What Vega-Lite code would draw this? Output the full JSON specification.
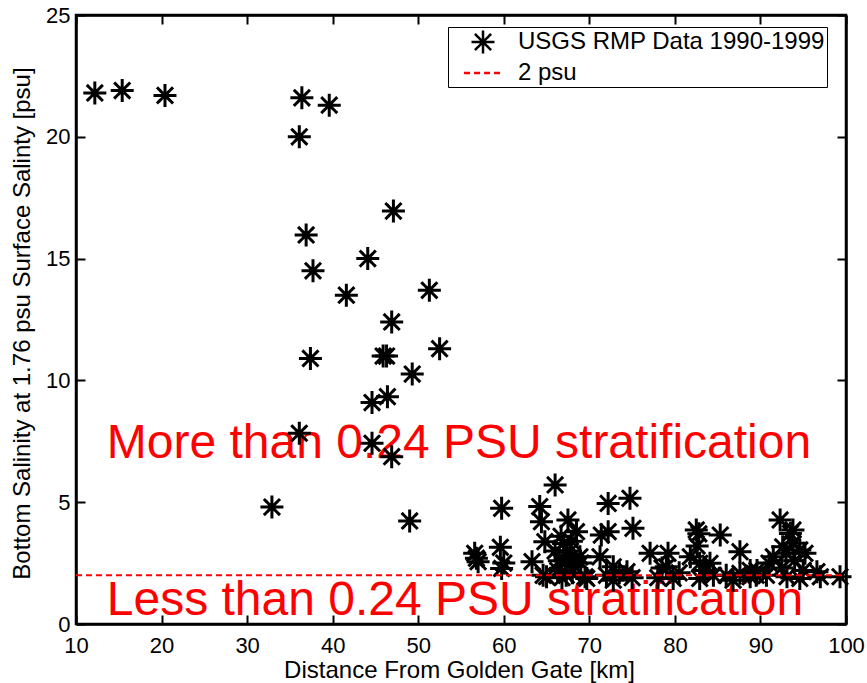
{
  "$schema": "https://vega.github.io/schema/vega-lite/v6.json",
  "width": 770,
  "height": 609,
  "autosize": {"type": "none"},
  "padding": {"left": 76, "top": 15, "right": 21, "bottom": 59},
  "background": "white",
  "config": {"view": {"stroke": "black", "strokeWidth": 2.5}, "font": "Liberation Sans"},
  "datasets": {
    "pts": [
      {"d": 12.2, "s": 21.8}, {"d": 15.4, "s": 21.9}, {"d": 20.4, "s": 21.7},
      {"d": 36.4, "s": 21.6}, {"d": 39.6, "s": 21.3}, {"d": 36.1, "s": 20.0},
      {"d": 47.1, "s": 16.95}, {"d": 36.9, "s": 15.97}, {"d": 44.1, "s": 15.0},
      {"d": 37.7, "s": 14.5}, {"d": 41.6, "s": 13.5}, {"d": 51.3, "s": 13.7},
      {"d": 46.9, "s": 12.4}, {"d": 37.4, "s": 10.9}, {"d": 45.9, "s": 11.0},
      {"d": 46.3, "s": 11.0}, {"d": 52.5, "s": 11.3}, {"d": 49.3, "s": 10.26},
      {"d": 46.4, "s": 9.33}, {"d": 44.6, "s": 9.09}, {"d": 36.1, "s": 7.83},
      {"d": 44.6, "s": 7.42}, {"d": 46.9, "s": 6.87}, {"d": 32.9, "s": 4.8},
      {"d": 49.0, "s": 4.23},
      {"d": 56.6, "s": 2.9}, {"d": 57.0, "s": 2.56}, {"d": 56.8, "s": 2.7},
      {"d": 59.6, "s": 3.15}, {"d": 59.75, "s": 2.28}, {"d": 59.75, "s": 4.75},
      {"d": 60.0, "s": 2.5}, {"d": 63.3, "s": 2.56}, {"d": 64.2, "s": 4.82},
      {"d": 64.4, "s": 4.2}, {"d": 64.8, "s": 3.38}, {"d": 65.0, "s": 1.94},
      {"d": 66.0, "s": 5.71}, {"d": 66.0, "s": 3.0}, {"d": 66.5, "s": 2.6},
      {"d": 66.3, "s": 2.2}, {"d": 67.0, "s": 3.3}, {"d": 67.2, "s": 2.8},
      {"d": 67.5, "s": 4.27}, {"d": 67.5, "s": 2.4}, {"d": 67.8, "s": 3.0},
      {"d": 68.0, "s": 2.1}, {"d": 68.5, "s": 3.79}, {"d": 68.2, "s": 2.6},
      {"d": 66.8, "s": 1.9}, {"d": 67.3, "s": 2.0}, {"d": 69.5, "s": 1.94},
      {"d": 69.0, "s": 2.5}, {"d": 66.7, "s": 3.6}, {"d": 67.9, "s": 3.4},
      {"d": 68.9, "s": 2.76}, {"d": 69.7, "s": 1.87}, {"d": 64.6, "s": 2.0},
      {"d": 71.25, "s": 2.76}, {"d": 71.4, "s": 3.65}, {"d": 72.2, "s": 3.79},
      {"d": 72.2, "s": 4.95}, {"d": 72.8, "s": 2.35}, {"d": 73.5, "s": 2.1},
      {"d": 74.4, "s": 2.15}, {"d": 74.75, "s": 5.16}, {"d": 75.1, "s": 3.93},
      {"d": 75.0, "s": 1.9}, {"d": 72.0, "s": 2.0}, {"d": 72.8, "s": 1.8},
      {"d": 77.1, "s": 2.9}, {"d": 78.5, "s": 2.3}, {"d": 79.0, "s": 2.35},
      {"d": 79.2, "s": 2.9}, {"d": 79.8, "s": 1.87}, {"d": 80.5, "s": 2.1},
      {"d": 78.0, "s": 1.9}, {"d": 81.8, "s": 2.76}, {"d": 82.5, "s": 3.86},
      {"d": 82.8, "s": 3.7}, {"d": 82.6, "s": 3.2}, {"d": 82.9, "s": 2.49},
      {"d": 82.9, "s": 1.87}, {"d": 83.5, "s": 2.2}, {"d": 84.1, "s": 2.49},
      {"d": 85.3, "s": 3.65}, {"d": 84.5, "s": 2.0}, {"d": 86.0, "s": 2.0},
      {"d": 87.6, "s": 2.97}, {"d": 87.6, "s": 2.08}, {"d": 88.8, "s": 1.94},
      {"d": 86.8, "s": 1.8}, {"d": 89.5, "s": 2.0}, {"d": 90.7, "s": 2.0},
      {"d": 88.8, "s": 2.2}, {"d": 89.6, "s": 2.2},
      {"d": 91.0, "s": 2.5}, {"d": 91.5, "s": 2.76}, {"d": 92.3, "s": 4.27},
      {"d": 93.1, "s": 1.94}, {"d": 93.5, "s": 3.72}, {"d": 93.8, "s": 3.31},
      {"d": 93.8, "s": 3.86}, {"d": 92.6, "s": 3.17}, {"d": 94.6, "s": 3.04},
      {"d": 94.6, "s": 1.87}, {"d": 93.0, "s": 2.9}, {"d": 92.5, "s": 2.3},
      {"d": 94.0, "s": 2.6}, {"d": 95.2, "s": 2.9}, {"d": 95.0, "s": 2.2},
      {"d": 96.6, "s": 2.15}, {"d": 97.0, "s": 1.94}, {"d": 99.3, "s": 1.94}
    ],
    "thr": [{"s": 2}],
    "ann": [
      {"label": "More than 0.24 PSU stratification", "tx": 13.6, "ty": 6.8},
      {"label": "Less than 0.24 PSU stratification", "tx": 13.6, "ty": 0.37}
    ]
  },
  "layer": [
    {
      "data": {"name": "ann"},
      "mark": {"type": "text", "color": "red", "fontSize": 48, "align": "left", "baseline": "alphabetic", "font": "Liberation Sans"},
      "encoding": {
        "x": {"field": "tx", "type": "quantitative", "axis": null},
        "y": {"field": "ty", "type": "quantitative", "axis": null},
        "text": {"field": "label"}
      }
    },
    {
      "data": {"name": "pts"},
      "mark": {"type": "point", "size": 529, "strokeWidth": 3, "filled": false, "opacity": 1},
      "encoding": {
        "x": {
          "field": "d", "type": "quantitative",
          "scale": {"domain": [10, 100], "nice": false, "zero": false},
          "axis": {
            "orient": "bottom", "values": [10, 20, 30, 40, 50, 60, 70, 80, 90, 100], "format": "d",
            "title": "Distance From Golden Gate [km]", "titleFont": "Liberation Sans", "titleFontSize": 24,
            "titleFontWeight": "normal", "titleColor": "black", "titleX": 383, "titleY": 53,
            "titleBaseline": "alphabetic", "titleAlign": "center",
            "labelFont": "Liberation Sans", "labelFontSize": 22, "labelColor": "black", "labelPadding": 20,
            "labelFlush": false, "labelOverlap": false,
            "tickSize": -9, "tickColor": "black", "tickWidth": 2,
            "domainColor": "black", "domainWidth": 2.5, "grid": false
          }
        },
        "y": {
          "field": "s", "type": "quantitative",
          "scale": {"domain": [0, 25], "nice": false},
          "axis": {
            "orient": "left", "values": [0, 5, 10, 15, 20, 25], "format": "d",
            "title": "Bottom Salinity at 1.76 psu Surface Salinty [psu]", "titleFont": "Liberation Sans", "titleFontSize": 24,
            "titleFontWeight": "normal", "titleColor": "black", "titleX": -47, "titleY": 308, "titleAngle": -90,
            "titleBaseline": "alphabetic", "titleAlign": "center",
            "labelFont": "Liberation Sans", "labelFontSize": 22, "labelColor": "black", "labelPadding": 15,
            "labelFlush": false, "labelOverlap": false,
            "tickSize": -9, "tickColor": "black", "tickWidth": 2,
            "domainColor": "black", "domainWidth": 2.5, "grid": false
          }
        },
        "color": {
          "datum": "USGS RMP Data 1990-1999", "type": "nominal",
          "scale": {"domain": ["USGS RMP Data 1990-1999", "2 psu"], "range": ["black", "red"]},
          "legend": {
            "title": null, "orient": "none", "legendX": 372, "legendY": 12,
            "strokeColor": "black", "fillColor": "white", "padding": 2, "rowPadding": 1,
            "labelFont": "Liberation Sans", "labelFontSize": 24, "labelColor": "black", "labelOffset": 22,
            "symbolSize": 529, "symbolOffset": 20, "symbolStrokeWidth": 2.5, "labelLimit": 400
          }
        },
        "shape": {
          "datum": "USGS RMP Data 1990-1999", "type": "nominal",
          "scale": {"domain": ["USGS RMP Data 1990-1999", "2 psu"], "range": ["M-1,0L1,0M0,-1L0,1M-0.7,-0.7L0.7,0.7M-0.7,0.7L0.7,-0.7", "M-1.65,0L1.65,0"]},
          "legend": {
            "title": null, "orient": "none", "legendX": 372, "legendY": 12,
            "strokeColor": "black", "fillColor": "white", "padding": 2, "rowPadding": 1,
            "labelFont": "Liberation Sans", "labelFontSize": 24, "labelColor": "black", "labelOffset": 22,
            "symbolSize": 529, "symbolOffset": 20, "symbolStrokeWidth": 2.5, "labelLimit": 400
          }
        },
        "strokeDash": {
          "datum": "USGS RMP Data 1990-1999", "type": "nominal",
          "scale": {"domain": ["USGS RMP Data 1990-1999", "2 psu"], "range": [[1, 0], [6, 4]]},
          "legend": {
            "title": null, "orient": "none", "legendX": 372, "legendY": 12,
            "strokeColor": "black", "fillColor": "white", "padding": 2, "rowPadding": 1,
            "labelFont": "Liberation Sans", "labelFontSize": 24, "labelColor": "black", "labelOffset": 22,
            "symbolSize": 529, "symbolOffset": 20, "symbolStrokeWidth": 2.5, "labelLimit": 400
          }
        }
      }
    },
    {
      "data": {"name": "thr"},
      "mark": {"type": "rule", "strokeWidth": 2},
      "encoding": {
        "x": {
          "datum": 10, "type": "quantitative",
          "axis": {"orient": "top", "values": [10, 20, 30, 40, 50, 60, 70, 80, 90, 100], "labels": false, "title": null,
                   "tickSize": -9, "tickColor": "black", "tickWidth": 2, "domainColor": "black", "domainWidth": 2.5, "grid": false}
        },
        "x2": {"datum": 100},
        "y": {
          "field": "s", "type": "quantitative",
          "axis": {"orient": "right", "values": [0, 5, 10, 15, 20, 25], "labels": false, "title": null,
                   "tickSize": -9, "tickColor": "black", "tickWidth": 2, "domainColor": "black", "domainWidth": 2.5, "grid": false}
        },
        "color": {"datum": "2 psu", "type": "nominal", "legend": null},
        "strokeDash": {"datum": "2 psu", "type": "nominal", "legend": null}
      }
    }
  ],
  "resolve": {"axis": {"x": "independent", "y": "independent"}}
}
